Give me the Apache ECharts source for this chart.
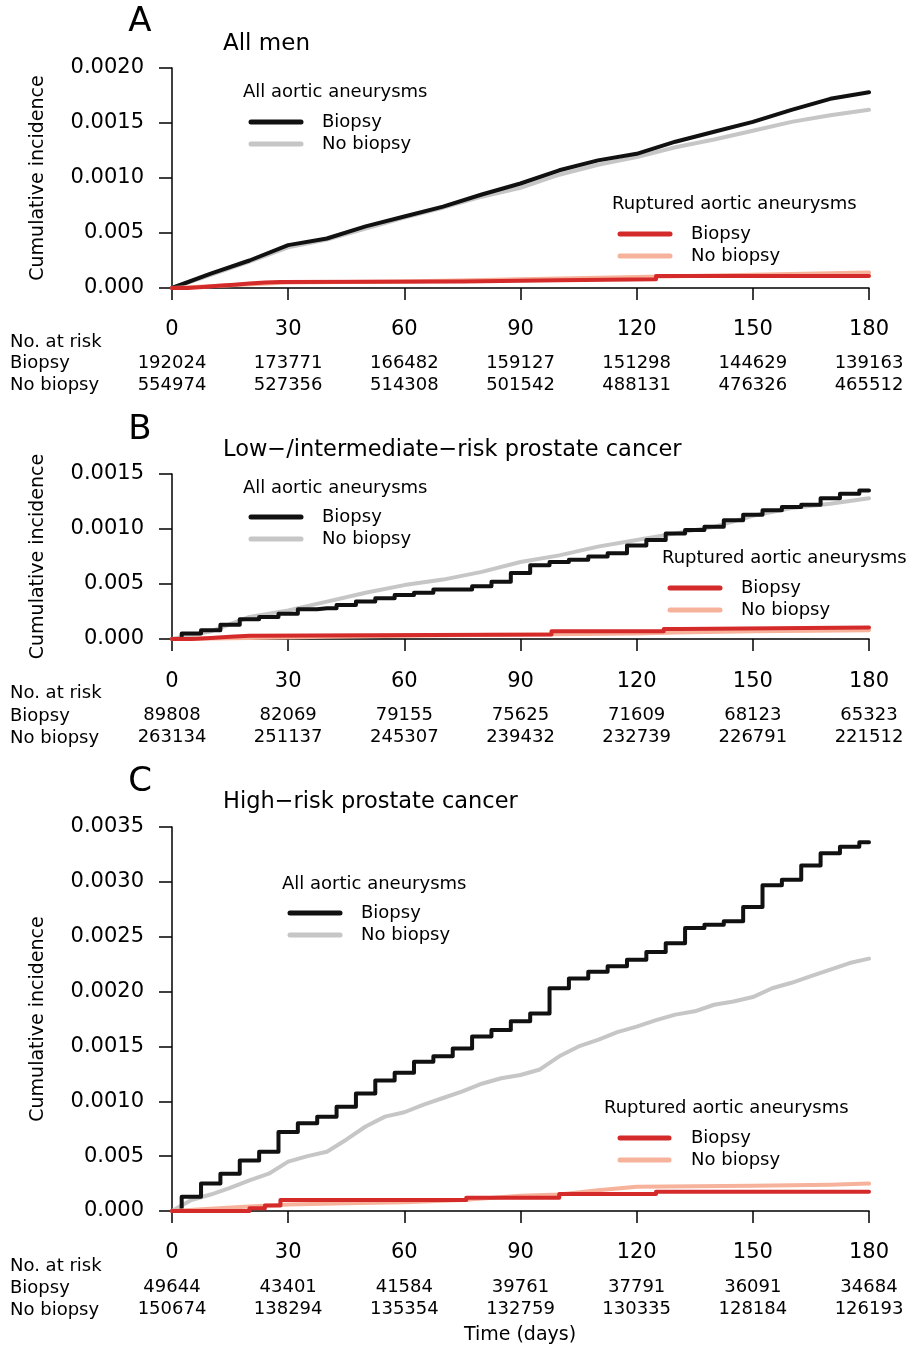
<!DOCTYPE html>
<html><head><meta charset="utf-8">
<script src="https://cdn.jsdelivr.net/npm/echarts@6/dist/echarts.min.js"></script>
<style>html,body{margin:0;padding:0;background:#fff}#c{width:908px;height:1348px}</style>
</head><body><div id="c"></div>
<script>
// ---- tick labels ----
const timeTicks = [0, 30, 60, 90, 120, 150, 180];
const yLabelsA = ['0.000', '0.005', '0.0010', '0.0015', '0.0020'];
const yLabelsB = ['0.000', '0.005', '0.0010', '0.0015'];
const yLabelsC = ['0.000', '0.005', '0.0010', '0.0015', '0.0020', '0.0025', '0.0030', '0.0035'];

// ---- numbers at risk ----
const riskA_biopsy = [192024, 173771, 166482, 159127, 151298, 144629, 139163];
const riskA_noBiopsy = [554974, 527356, 514308, 501542, 488131, 476326, 465512];
const riskB_biopsy = [89808, 82069, 79155, 75625, 71609, 68123, 65323];
const riskB_noBiopsy = [263134, 251137, 245307, 239432, 232739, 226791, 221512];
const riskC_biopsy = [49644, 43401, 41584, 39761, 37791, 36091, 34684];
const riskC_noBiopsy = [150674, 138294, 135354, 132759, 130335, 128184, 126193];

// ---- Panel A: all men ----
const aDays = [0, 10, 20, 30, 40, 50, 60, 70, 80, 90, 100, 110, 120, 130, 140, 150, 160, 170, 180];
const aAllBiopsy = [0, 0.00013, 0.00025, 0.00039, 0.00045, 0.00056, 0.00065, 0.00074, 0.00085, 0.00095, 0.00107, 0.00116, 0.00122, 0.00133, 0.00142, 0.00151, 0.00162, 0.00172, 0.00178];
const aAllNoBiopsy = [0, 0.00012, 0.00024, 0.00037, 0.00044, 0.00054, 0.00064, 0.00073, 0.00083, 0.00091, 0.00103, 0.00112, 0.00119, 0.00128, 0.00135, 0.00143, 0.00151, 0.00157, 0.00162];
const aRupBiopsyDays = [0, 4, 8, 12, 16, 20, 24, 28, 75, 100, 125, 180];
const aRupBiopsy = [0, 0.00001, 0.00002, 0.00003, 0.00004, 0.00005, 0.000055, 0.00006, 0.00007, 0.00008, 0.00011, 0.00011];
const aRupNoBiopsyDays = [0, 30, 60, 90, 120, 150, 180];
const aRupNoBiopsy = [0, 0.00005, 0.00006, 0.00008, 0.0001, 0.00012, 0.00014];

// ---- Panel B: low/intermediate risk ----
const bDays5 = [0,5,10,15,20,25,30,35,40,45,50,55,60,65,70,75,80,85,90,95,100,105,110,115,120,125,130,135,140,145,150,155,160,165,170,175,180];
const bAllBiopsy = [0, 0.00005, 0.00008, 0.00013, 0.00018, 0.0002, 0.00023, 0.00027, 0.00028, 0.00031, 0.00034, 0.00037, 0.0004, 0.00042, 0.00045, 0.00045, 0.00048, 0.00052, 0.0006, 0.00067, 0.0007, 0.00072, 0.00075, 0.00078, 0.00085, 0.0009, 0.00096, 0.00099, 0.00102, 0.00108, 0.00113, 0.00117, 0.0012, 0.00122, 0.00128, 0.00132, 0.00135];
const bDays = [0, 10, 20, 30, 40, 50, 60, 70, 80, 90, 100, 110, 120, 130, 140, 150, 160, 170, 180];
const bAllNoBiopsy = [0, 0.00007, 0.0002, 0.00026, 0.00034, 0.00042, 0.00049, 0.00054, 0.00061, 0.0007, 0.00076, 0.00084, 0.0009, 0.00096, 0.00102, 0.00112, 0.00119, 0.00123, 0.00128];
const bRupBiopsyDays = [0, 5, 10, 15, 20, 98, 127, 131, 180];
const bRupBiopsy = [0, 0.00001, 0.00002, 0.00003, 0.00004, 0.00007, 0.00009, 0.000105, 0.000105];
const bRupNoBiopsyDays = [0, 20, 40, 60, 90, 120, 130, 150, 180];
const bRupNoBiopsy = [0, 0.00001, 0.00002, 0.00003, 0.00004, 0.00005, 0.00006, 0.00007, 0.00008];

// ---- Panel C: high risk ----
const cDays5 = [0,5,10,15,20,25,30,35,40,45,50,55,60,65,70,75,80,85,90,95,100,105,110,115,120,125,130,135,140,145,150,155,160,165,170,175,180];
const cAllBiopsy = [0, 0.00013, 0.00025, 0.00034, 0.00046, 0.00054, 0.00072, 0.0008, 0.00086, 0.00095, 0.00107, 0.00119, 0.00126, 0.00136, 0.00141, 0.00148, 0.00159, 0.00165, 0.00173, 0.0018, 0.00203, 0.00212, 0.00218, 0.00223, 0.00229, 0.00236, 0.00244, 0.00258, 0.00261, 0.00264, 0.00277, 0.00297, 0.00302, 0.00315, 0.00326, 0.00332, 0.00336];
const cAllNoBiopsy = [0, 0.0001, 0.00015, 0.00021, 0.00028, 0.00034, 0.00045, 0.0005, 0.00054, 0.00065, 0.00077, 0.00086, 0.0009, 0.00097, 0.00103, 0.00109, 0.00116, 0.00121, 0.00124, 0.00129, 0.00141, 0.0015, 0.00156, 0.00163, 0.00168, 0.00174, 0.00179, 0.00182, 0.00188, 0.00191, 0.00195, 0.00203, 0.00208, 0.00214, 0.0022, 0.00226, 0.0023];
const cRupBiopsyDays = [0, 20, 24, 28, 76, 100, 125, 180];
const cRupBiopsy = [0, 0.000025, 0.00005, 0.0001, 0.00012, 0.000155, 0.000176, 0.000176];
const cRupNoBiopsyDays = [0, 10, 20, 30, 45, 60, 75, 90, 100, 110, 120, 150, 170, 180];
const cRupNoBiopsy = [0, 0.00002, 0.00004, 0.00006, 0.00007, 0.00008, 0.0001, 0.00014, 0.00015, 0.00019, 0.00022, 0.00023, 0.00024, 0.00025];

// ---- styling ----
const FONT = 'DejaVu Sans';
const C_BLACK = '#111111', C_GRAY = '#c6c6c6', C_RED = '#d42a2a', C_SALMON = '#f6b29b';

const pairs = (ts, vs) => ts.map((t, i) => [t, vs[i]]);

const panels = [
  { top: 68, height: 220, max: 0.0020, labels: yLabelsA, risk: [riskA_biopsy, riskA_noBiopsy], margins: [31, 66, 88] },
  { top: 474, height: 165, max: 0.0015, labels: yLabelsB, risk: [riskB_biopsy, riskB_noBiopsy], margins: [32, 67, 89] },
  { top: 827, height: 384, max: 0.0035, labels: yLabelsC, risk: [riskC_biopsy, riskC_noBiopsy], margins: [31, 67, 89] }
];

const grid = [], xAxis = [], yAxis = [];
panels.forEach((p, gi) => {
  grid.push({ left: 172, right: 39, top: p.top, height: p.height, containLabel: false });
  xAxis.push({
    type: 'value', gridIndex: gi, position: 'bottom', min: 0, max: 180, interval: 30,
    axisLine: { show: true, onZero: false, lineStyle: { color: '#000', width: 1.5 } },
    axisTick: { show: true, length: 12, lineStyle: { color: '#000', width: 1.5 } },
    splitLine: { show: false },
    axisLabel: { fontFamily: FONT, fontSize: 21, color: '#000', margin: p.margins[0] }
  });
  p.risk.forEach((arr, k) => {
    xAxis.push({
      type: 'value', gridIndex: gi, position: 'bottom', min: 0, max: 180, interval: 30,
      axisLine: { show: false, onZero: false }, axisTick: { show: false }, splitLine: { show: false },
      axisLabel: { fontFamily: FONT, fontSize: 18, color: '#000', margin: p.margins[k + 1],
        formatter: v => String(arr[Math.round(v / 30)]) }
    });
  });
  yAxis.push({
    type: 'value', gridIndex: gi, min: 0, max: p.max, interval: 0.0005,
    name: 'Cumulative incidence', nameLocation: 'middle', nameGap: 124, nameRotate: 90,
    nameTextStyle: { fontFamily: FONT, fontSize: 19, color: '#000' },
    axisLine: { show: true, lineStyle: { color: '#000', width: 1.5 } },
    axisTick: { show: true, length: 13, lineStyle: { color: '#000', width: 1.5 } },
    splitLine: { show: false },
    axisLabel: { fontFamily: FONT, fontSize: 21, color: '#000', margin: 28,
      formatter: v => p.labels[Math.round(v / 0.0005)] }
  });
});

function mk(name, data, color, gi, step) {
  return {
    type: 'line', name, data, xAxisIndex: gi * 3, yAxisIndex: gi,
    step: step || false, symbol: 'none', smooth: false,
    lineStyle: { color, width: 4, cap: 'round', join: 'round' }, silent: true
  };
}

const series = [
  mk('No biopsy', pairs(aDays, aAllNoBiopsy), C_GRAY, 0),
  mk('Biopsy', pairs(aDays, aAllBiopsy), C_BLACK, 0),
  mk('No biopsy ruptured', pairs(aRupNoBiopsyDays, aRupNoBiopsy), C_SALMON, 0),
  mk('Biopsy ruptured', pairs(aRupBiopsyDays, aRupBiopsy), C_RED, 0, 'end'),

  mk('No biopsy', pairs(bDays, bAllNoBiopsy), C_GRAY, 1),
  mk('Biopsy', pairs(bDays5, bAllBiopsy), C_BLACK, 1, 'middle'),
  mk('No biopsy ruptured', pairs(bRupNoBiopsyDays, bRupNoBiopsy), C_SALMON, 1),
  mk('Biopsy ruptured', pairs(bRupBiopsyDays, bRupBiopsy), C_RED, 1, 'end'),

  mk('No biopsy', pairs(cDays5, cAllNoBiopsy), C_GRAY, 2),
  mk('Biopsy', pairs(cDays5, cAllBiopsy), C_BLACK, 2, 'middle'),
  mk('No biopsy ruptured', pairs(cRupNoBiopsyDays, cRupNoBiopsy), C_SALMON, 2),
  mk('Biopsy ruptured', pairs(cRupBiopsyDays, cRupBiopsy), C_RED, 2, 'end')
];

// ---- graphic text / legends ----
const g = [];
function txt(s, x, y, size, align) {
  g.push({ type: 'text', x, y, silent: true,
    style: { text: s, fill: '#000', font: size + 'px "' + FONT + '"', align: align || 'left', verticalAlign: 'middle' } });
}
function seg(x1, x2, y, color) {
  g.push({ type: 'line', silent: true, shape: { x1, y1: y, x2, y2: y },
    style: { stroke: color, lineWidth: 5, lineCap: 'round' } });
}
function legend(title, tx, ty, lx1, lx2, labx, y1, y2, c1, c2) {
  txt(title, tx, ty, 18);
  seg(lx1, lx2, y1, c1); seg(lx1, lx2, y2, c2);
  txt('Biopsy', labx, y1, 18); txt('No biopsy', labx, y2, 18);
}
// Panel letters and titles
txt('A', 140, 22, 34, 'center');
txt('All men', 223, 44, 23);
txt('B', 140, 430, 34, 'center');
txt('Low\u2212/intermediate\u2212risk prostate cancer', 223, 450, 22.5);
txt('C', 140, 782, 34, 'center');
txt('High\u2212risk prostate cancer', 223, 802, 22.5);
// Legends
legend('All aortic aneurysms', 243, 92, 251, 301, 322, 122, 144, C_BLACK, C_GRAY);
legend('Ruptured aortic aneurysms', 612, 204, 620, 670, 691, 234, 256, C_RED, C_SALMON);
legend('All aortic aneurysms', 243, 488, 251, 301, 322, 517, 539, C_BLACK, C_GRAY);
legend('Ruptured aortic aneurysms', 662, 558, 670, 720, 741, 588, 610, C_RED, C_SALMON);
legend('All aortic aneurysms', 282, 884, 290, 340, 361, 913, 935, C_BLACK, C_GRAY);
legend('Ruptured aortic aneurysms', 604, 1108, 620, 669, 691, 1138, 1160, C_RED, C_SALMON);
// At-risk row labels
[[342, 363, 385], [693, 716, 738], [1266, 1288, 1310]].forEach(r => {
  txt('No. at risk', 10, r[0], 18);
  txt('Biopsy', 10, r[1], 18);
  txt('No biopsy', 10, r[2], 18);
});
txt('Time (days)', 520, 1335, 19, 'center');

const chart = echarts.init(document.getElementById('c'), null, { renderer: 'canvas' });
chart.setOption({
  animation: false, backgroundColor: '#fff',
  grid, xAxis, yAxis, series, graphic: g
});
</script></body></html>
